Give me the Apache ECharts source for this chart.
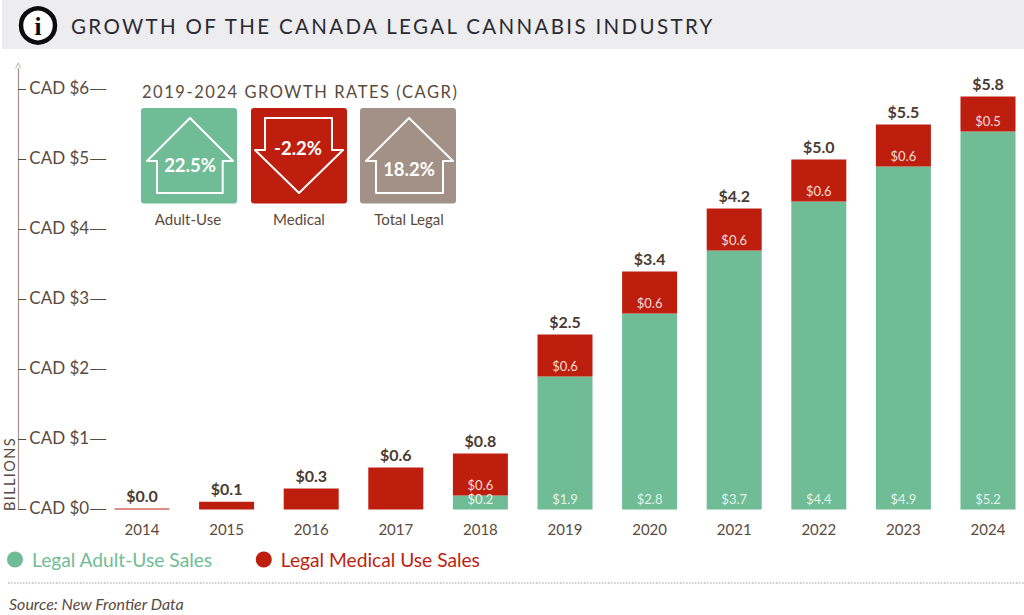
<!DOCTYPE html>
<html><head><meta charset="utf-8">
<script src="https://cdn.jsdelivr.net/npm/echarts@6/dist/echarts.min.js"></script>
<style>
html,body{margin:0;padding:0;background:#fff}
#c{width:1024px;height:615px}
#c text[style*="20.5px"]{letter-spacing:2.35px}
#c text[style*="16.5px"]{letter-spacing:1.55px}
#c text[style*="14.5px"]{letter-spacing:1.4px}
</style></head><body><div id="c"></div>
<script>
const years=['2014','2015','2016','2017','2018','2019','2020','2021','2022','2023','2024'];
const adultHeights=[0,0,0,0,0.2,1.9,2.8,3.7,4.4,4.9,5.4];
const medicalHeights=[0.015,0.11,0.3,0.6,0.6,0.6,0.6,0.6,0.6,0.6,0.5];
const adultLabels=['','','','','$0.2','$1.9','$2.8','$3.7','$4.4','$4.9','$5.2'];
const medicalLabels=['','','','','$0.6','$0.6','$0.6','$0.6','$0.6','$0.6','$0.5'];
const totalLabels=['$0.0','$0.1','$0.3','$0.6','$0.8','$2.5','$3.4','$4.2','$5.0','$5.5','$5.8'];
const tickValues=[0,1,2,3,4,5,6];
const GREEN='#6fbc96',RED='#bd1e0e',TAUPE='#a29186',BROWN='#5a4a3e',F='Lato';
const t=(x,y,text,size,color,extra)=>({type:'text',x,y,silent:true,style:Object.assign({text,fill:color,font:size+'px '+F,textAlign:'center',textVerticalAlign:'middle'},extra||{})});
const box=(x,c)=>({type:'rect',shape:{x,y:108,width:96,height:95.5,r:3},style:{fill:c}});
const arrow=(pts)=>({type:'polygon',shape:{points:pts},style:{fill:'none',stroke:'#fff',lineWidth:2,lineJoin:'round'}});
const chart=echarts.init(document.getElementById('c'),null,{renderer:'svg',width:1024,height:615});
chart.setOption({
 animation:false,backgroundColor:'#fff',
 grid:{left:99.7,width:930.6,top:68.5,height:441,containLabel:false,outerBoundsMode:'none'},
 legend:{data:[{name:'Legal Adult-Use Sales',textStyle:{color:GREEN}},{name:'Legal Medical Use Sales',textStyle:{color:RED}}],left:7,top:550,icon:'circle',itemWidth:16,itemHeight:16,itemGap:43,padding:0,
   textStyle:{fontFamily:F,fontSize:19.2,padding:[0,0,0,4]},selectedMode:false},
 xAxis:{type:'category',data:years,axisLine:{show:false},axisTick:{show:false},
   axisLabel:{color:BROWN,fontFamily:F,fontSize:15,margin:12}},
 yAxis:[
  {type:'value',position:'left',min:0,max:6.3,offset:-6.5,splitLine:{show:false},axisLine:{show:false},
   axisTick:{show:true,length:16,lineStyle:{color:BROWN,width:1},customValues:tickValues},
   axisLabel:{color:BROWN,fontFamily:F,fontSize:17,margin:17,verticalAlign:'bottom',lineHeight:4,formatter:v=>'CAD $'+v,customValues:tickValues}},
  {type:'value',position:'left',min:0,max:6.3,offset:81.5,splitLine:{show:false},
   axisLine:{show:true,onZero:false,lineStyle:{color:TAUPE,width:1.2},symbol:['none','path://M0 8L4 0L8 8L7.2 8L4 2L.8 8Z'],symbolSize:[8,6],symbolOffset:[0,3]},
   axisTick:{show:true,inside:true,length:8,lineStyle:{color:BROWN,width:1},customValues:tickValues},
   axisLabel:{show:false}}
 ],
 series:[
  {name:'Legal Adult-Use Sales',type:'bar',stack:'a',barWidth:55,data:adultHeights,itemStyle:{color:GREEN},
   label:{show:true,position:'insideBottom',distance:4,color:'#e4f3ea',fontFamily:F,fontSize:13,formatter:p=>adultLabels[p.dataIndex]}},
  {name:'Legal Medical Use Sales',type:'bar',stack:'a',barWidth:55,data:medicalHeights,itemStyle:{color:RED},
   label:{show:true,position:'insideBottom',distance:4,color:'#f6dfd9',fontFamily:F,fontSize:13,formatter:p=>medicalLabels[p.dataIndex]}},
  {name:'Total',type:'bar',stack:'a',barWidth:55,data:years.map(()=>0),itemStyle:{color:'transparent'},
   label:{show:true,position:'top',distance:5,color:'#4a3b31',fontFamily:F,fontWeight:'bold',fontSize:16,formatter:p=>totalLabels[p.dataIndex]}}
 ],
 graphic:[
  {type:'rect',silent:true,shape:{x:2,y:0,width:1022,height:49},style:{fill:'#edecef'}},
  {type:'circle',shape:{cx:38,cy:25.5,r:17},style:{fill:'#fff',stroke:'#0c0c0c',lineWidth:4.5}},
  {type:'text',x:38,y:26,style:{text:'i',fill:'#0c0c0c',font:'bold 25px "Liberation Serif"',textAlign:'center',textVerticalAlign:'middle'}},
  {type:'text',x:71,y:26,style:{text:'GROWTH OF THE CANADA LEGAL CANNABIS INDUSTRY',fill:'#2b2b33',font:'20.5px '+F,textAlign:'left',textVerticalAlign:'middle'}},
  {type:'text',x:142,y:91.5,style:{text:'2019-2024 GROWTH RATES (CAGR)',fill:BROWN,font:'16.5px '+F,textAlign:'left',textVerticalAlign:'middle'}},
  box(141,GREEN),box(251,RED),box(360,TAUPE),
  arrow([[190,118],[233,161],[222.7,161],[222.7,193],[157,193],[157,161],[147,161]]),
  arrow([[265,118],[332,118],[332,150],[343,150],[299,193],[255,150],[265,150]]),
  arrow([[409,118],[453,161],[443,161],[443,193],[376,193],[376,161],[366,161]]),
  t(190,165,'22.5%',19,'#fff',{font:'bold 18.5px '+F}),
  t(298,148,'-2.2%',19,'#fff',{font:'bold 18.5px '+F}),
  t(409,169,'18.2%',19,'#fff',{font:'bold 18.5px '+F}),
  t(188,219,'Adult-Use',15,BROWN),
  t(299,219,'Medical',15,BROWN),
  t(409,219,'Total Legal',15,BROWN),
  {type:'text',x:9,y:474,rotation:Math.PI/2,style:{text:'BILLIONS',fill:BROWN,font:'14.5px '+F,textAlign:'center',textVerticalAlign:'middle'}},
  {type:'line',shape:{x1:8,y1:583,x2:1024,y2:583},style:{stroke:'#bdbdbd',lineWidth:1.5,lineDash:[1.5,1.5]}},
  {type:'text',x:9,y:603.5,style:{text:'Source: New Frontier Data',fill:BROWN,font:'italic 16px '+F,textAlign:'left',textVerticalAlign:'middle'}}
 ]
});
</script></body></html>
